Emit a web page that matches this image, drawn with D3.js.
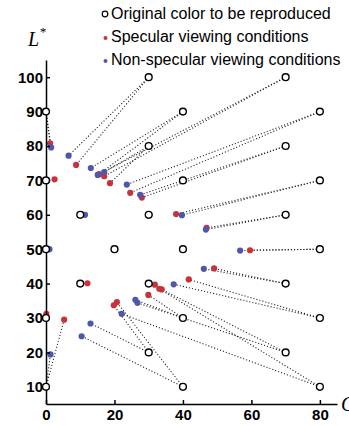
<!DOCTYPE html>
<html>
<head>
<meta charset="utf-8">
<script src="https://cdn.jsdelivr.net/npm/d3@7"></script>
<style>
  body { margin: 0; background: #fff; }
  svg { display: block; }
</style>
</head>
<body>
<svg width="349" height="426"></svg>
<script>
// original colours (C*, L*) and the two reproductions of each
const origC = [0, 0, 0, 0, 0, 10, 10, 20, 30, 30, 30, 30, 30, 40, 40, 40, 40, 40, 70, 70, 70, 70, 70, 80, 80, 80, 80, 80];
const origL = [90, 70, 50, 30, 10, 60, 40, 50, 100, 80, 60, 40, 20, 90, 70, 50, 30, 10, 100, 80, 60, 40, 20, 90, 70, 50, 30, 10];
const specC = [1.2, 2.5, 0.0, 0.1, 5.3, 10.3, 12.1, 20.2, 8.8, 18.7, 30.2, 31.8, 19.8, 15.5, 40.1, 40.0, 29.9, 20.7, 17.0, 28.0, 46.9, 49.1, 33.8, 24.6, 38.0, 59.6, 41.7, 33.1];
const specL = [80.8, 70.3, 50.2, 31.2, 29.5, 60.2, 40.1, 50.0, 74.5, 69.2, 60.0, 39.7, 33.7, 71.8, 70.0, 50.0, 36.7, 34.6, 71.2, 65.0, 56.2, 44.4, 38.3, 66.4, 60.2, 49.7, 41.2, 38.5];
const nonC = [1.5, 0.4, 1.0, 0.2, 1.3, 11.4, 10.2, 20.0, 6.6, 17.0, 30.0, 30.0, 13.0, 13.1, 39.9, 40.0, 26.1, 10.4, 15.1, 27.5, 46.7, 46.1, 26.7, 23.6, 39.7, 56.7, 37.3, 22.1];
const nonL = [79.6, 70.0, 50.0, 30.0, 19.4, 60.0, 40.0, 49.8, 77.2, 72.4, 59.8, 40.0, 28.4, 73.6, 70.1, 50.0, 35.3, 24.7, 71.6, 65.8, 55.7, 44.3, 34.4, 68.8, 59.9, 49.6, 39.8, 31.2];

const xTicks = [0, 20, 40, 60, 80];
const yTicks = [10, 20, 30, 40, 50, 60, 70, 80, 90, 100];
const legendLabels = ['Original color to be reproduced', 'Specular viewing conditions', 'Non-specular viewing conditions'];

const red = '#c9323b';
const blue = '#4d58ad';

const svg = d3.select('svg');
const x = d3.scaleLinear().domain([0, 85]).range([46, 337]);
const y = d3.scaleLinear().domain([5, 105]).range([404, 60]);

// dotted connectors
const links = [];
origC.forEach((c, i) => {
  links.push({x1: c, y1: origL[i], x2: specC[i], y2: specL[i]});
  links.push({x1: c, y1: origL[i], x2: nonC[i], y2: nonL[i]});
});
svg.append('g').selectAll('line').data(links).enter().append('line')
  .attr('x1', d => x(d.x1)).attr('y1', d => y(d.y1))
  .attr('x2', d => x(d.x2)).attr('y2', d => y(d.y2))
  .attr('stroke', '#222')
  .attr('stroke-width', 1.1)
  .attr('stroke-dasharray', '1.1,2');

svg.append('g').selectAll('circle').data(specC).enter().append('circle')
  .attr('cx', d => x(d)).attr('cy', (d, i) => y(specL[i]))
  .attr('r', 3.1).attr('fill', red);

svg.append('g').selectAll('circle').data(nonC).enter().append('circle')
  .attr('cx', d => x(d)).attr('cy', (d, i) => y(nonL[i]))
  .attr('r', 3.1).attr('fill', blue);

// axes
const xAxis = d3.axisBottom(x).tickValues(xTicks).tickSizeInner(-4).tickSizeOuter(0).tickPadding(5);
const yAxis = d3.axisLeft(y).tickValues(yTicks).tickSizeInner(-4).tickSizeOuter(0).tickPadding(3);

svg.append('g')
  .attr('transform', `translate(0,${y(5)})`)
  .call(xAxis)
  .call(g => g.selectAll('path,line').attr('stroke', '#000').attr('stroke-width', 1.5))
  .call(g => g.selectAll('text').attr('fill', '#000')
    .style('font', 'bold 15px "Liberation Sans", Arial, sans-serif'));

svg.append('g')
  .attr('transform', `translate(${x(0)},0)`)
  .call(yAxis)
  .call(g => g.selectAll('path,line').attr('stroke', '#000').attr('stroke-width', 1.5))
  .call(g => g.selectAll('text').attr('fill', '#000')
    .style('font', 'bold 15px "Liberation Sans", Arial, sans-serif'));

// originals on top
svg.append('g').selectAll('circle').data(origC).enter().append('circle')
  .attr('cx', d => x(d)).attr('cy', (d, i) => y(origL[i]))
  .attr('r', 3.4).attr('fill', '#fff')
  .attr('stroke', '#000').attr('stroke-width', 1.4);

// axis titles
const lt = svg.append('text').attr('x', 28).attr('y', 46)
  .style('font', 'italic 20px "Liberation Serif", "Times New Roman", serif');
lt.append('tspan').text('L');
lt.append('tspan').attr('dy', -10).style('font-size', '13px').text('*');

// the x title is cut by the right edge in the original figure
svg.append('text').attr('x', 341).attr('y', 411)
  .style('font', 'italic 20px "Liberation Serif", "Times New Roman", serif')
  .text('C*');

// legend
const legend = svg.append('g');
legendLabels.forEach((t, i) => {
  const ly = 19 + i * 23;
  if (i === 0) {
    legend.append('circle').attr('cx', 105).attr('cy', ly - 5).attr('r', 2.8)
      .attr('fill', '#fff').attr('stroke', '#000').attr('stroke-width', 1.2);
  } else {
    legend.append('circle').attr('cx', 105.5).attr('cy', ly - 4).attr('r', 2)
      .attr('fill', i === 1 ? red : blue);
  }
  legend.append('text').attr('x', 111).attr('y', ly)
    .style('font', '16px "Liberation Sans", Arial, sans-serif')
    .attr('fill', '#000')
    .text(t);
});
</script>
</body>
</html>
